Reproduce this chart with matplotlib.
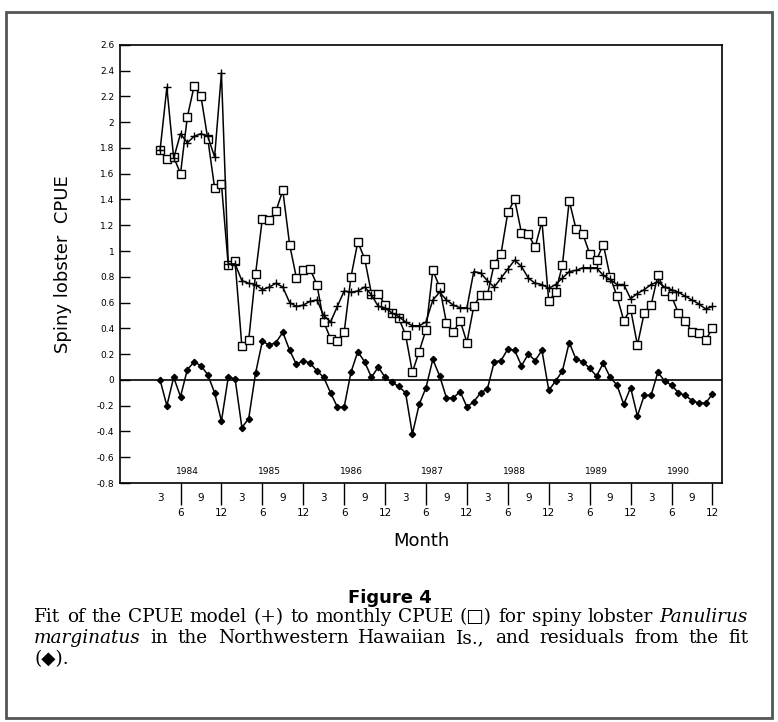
import matplotlib
matplotlib.use("Agg")
import matplotlib.pyplot as plt
from matplotlib.patches import Rectangle
import numpy as np

# monthly series, 1984-03 .. 1990-12
start_year = 1984
start_month = 3

cpue_obs = [1.78, 1.71, 1.73, 1.60, 2.04, 2.28, 2.20, 1.87, 1.49, 1.52,
            0.89, 0.92, 0.26, 0.31, 0.82, 1.25, 1.24, 1.31, 1.47, 1.05,
            0.79, 0.85, 0.86, 0.74, 0.45, 0.32, 0.30, 0.37, 0.80, 1.07,
            0.94, 0.67, 0.67, 0.58, 0.52, 0.48, 0.35, 0.06, 0.22, 0.39,
            0.85, 0.72, 0.44, 0.37, 0.46, 0.29, 0.57, 0.66, 0.66, 0.90,
            0.98, 1.30, 1.40, 1.14, 1.13, 1.03, 1.23, 0.61, 0.68, 0.89,
            1.39, 1.17, 1.13, 0.98, 0.93, 1.05, 0.80, 0.65, 0.46, 0.55,
            0.27, 0.52, 0.58, 0.81, 0.69, 0.65, 0.52, 0.46, 0.37, 0.36,
            0.31, 0.40]

cpue_fit = [1.78, 2.27, 1.72, 1.91, 1.84, 1.89, 1.91, 1.89, 1.73, 2.38,
            0.90, 0.90, 0.77, 0.75, 0.74, 0.70, 0.72, 0.75, 0.72, 0.60,
            0.57, 0.58, 0.61, 0.62, 0.50, 0.45, 0.57, 0.69, 0.68, 0.69,
            0.72, 0.66, 0.57, 0.56, 0.52, 0.49, 0.45, 0.42, 0.42, 0.45,
            0.62, 0.68, 0.62, 0.58, 0.56, 0.56, 0.84, 0.83, 0.77, 0.72,
            0.79, 0.86, 0.93, 0.88, 0.79, 0.75, 0.74, 0.71, 0.74, 0.79,
            0.84, 0.85, 0.87, 0.87, 0.87, 0.81, 0.78, 0.74, 0.74, 0.63,
            0.67, 0.70, 0.74, 0.76, 0.72, 0.70, 0.68, 0.65, 0.62, 0.59,
            0.55, 0.57]

residuals = [0.00, -0.20, 0.02, -0.13, 0.08, 0.14, 0.11, 0.04, -0.10, -0.32,
             0.02, 0.01, -0.37, -0.30, 0.05, 0.30, 0.27, 0.29, 0.37, 0.23,
             0.12, 0.15, 0.13, 0.07, 0.02, -0.10, -0.21, -0.21, 0.06, 0.22,
             0.14, 0.02, 0.10, 0.02, -0.02, -0.05, -0.10, -0.42, -0.19, -0.06,
             0.16, 0.03, -0.14, -0.14, -0.09, -0.21, -0.17, -0.10, -0.07, 0.14,
             0.15, 0.24, 0.23, 0.11, 0.20, 0.15, 0.23, -0.08, -0.01, 0.07,
             0.29, 0.16, 0.14, 0.09, 0.03, 0.13, 0.02, -0.04, -0.19, -0.06,
             -0.28, -0.12, -0.12, 0.06, -0.01, -0.04, -0.10, -0.12, -0.16, -0.18,
             -0.18, -0.11]

years = [1984, 1985, 1986, 1987, 1988, 1989, 1990]
tick_months = [3, 6, 9, 12]


def month_index(year, month):
    return (year - start_year) * 12 + (month - start_month)


t = np.arange(len(cpue_obs))

fig = plt.figure(figsize=(7.78, 7.22), dpi=100)
ax = fig.add_axes([0.154, 0.331, 0.774, 0.607])

ax.plot(t, cpue_obs, color='black', lw=1.1, marker='s', ms=5.2,
        mfc='white', mec='black', mew=1.0)
ax.plot(t, cpue_fit, color='black', lw=1.1, marker='+', ms=5.5, mew=1.0)
ax.plot(t, residuals, color='black', lw=1.1, marker='D', ms=3.2,
        mfc='black', mec='black')
ax.axhline(0, color='black', lw=1.2)

ax.set_xlim(-5.9, 82.4)
ax.set_ylim(-0.8, 2.6)

yt = np.round(np.arange(-0.8, 2.61, 0.2), 1) + 0.0
ax.set_yticks(yt)
ax.set_yticklabels(['%g' % v if abs(v) > 1e-9 else '0' for v in yt], fontsize=6.5)
ax.tick_params(axis='y', direction='in', length=7, width=1, pad=4)

major_pos, major_lab, minor_pos, minor_lab = [], [], [], []
for y in years:
    for m in tick_months:
        pos = month_index(y, m)
        if pos < 0 or pos >= len(cpue_obs):
            continue
        if m in (6, 12):
            major_pos.append(pos)
            major_lab.append(str(m))
        else:
            minor_pos.append(pos)
            minor_lab.append(str(m))
ax.set_xticks(major_pos)
ax.set_xticklabels(major_lab, fontsize=7.5)
ax.set_xticks(minor_pos, minor=True)
ax.set_xticklabels(minor_lab, minor=True, fontsize=7.5)
ax.tick_params(axis='x', which='major', direction='out', length=16, width=1, pad=2)
ax.tick_params(axis='x', which='minor', direction='out', length=0, pad=7)

for y in years:
    ax.text(month_index(y, 7), -0.71, str(y), ha='center', va='center', fontsize=6.5)

for s in ax.spines.values():
    s.set_linewidth(1.2)

ax.set_ylabel('Spiny lobster  CPUE', fontsize=13, labelpad=18)
ax.set_xlabel('Month', fontsize=13, labelpad=10)

# figure caption
fig.text(0.501, 0.172, 'Figure 4', ha='center', va='center', fontsize=13,
         fontweight='bold')

serif = ['DejaVu Serif', 'DejaVu Sans']
renderer = fig.canvas.get_renderer()
cap_size = 13.3


def justified_line(words, y, x0, x1, fontsize=cap_size):
    arts = []
    for w, style in words:
        a = fig.text(0, y, w, fontsize=fontsize, family=serif, style=style,
                     va='center', ha='left')
        arts.append(a)
    widths = [a.get_window_extent(renderer).width / fig.bbox.width for a in arts]
    gap = (x1 - x0 - sum(widths)) / (len(arts) - 1)
    x = x0
    for a, w in zip(arts, widths):
        a.set_x(x)
        x += w + gap


line1 = [(w, 'normal') for w in 'Fit of the CPUE model (+) to monthly CPUE (\u25a1) for spiny lobster'.split()]
line1.append(('Panulirus', 'italic'))
line2 = [('marginatus', 'italic')]
line2 += [(w, 'normal') for w in 'in the Northwestern Hawaiian Is., and residuals from the fit'.split()]

justified_line(line1, 1 - 617 / 722, 34 / 778, 748 / 778)
justified_line(line2, 1 - 638 / 722, 34 / 778, 748 / 778)
fig.text(34 / 778, 1 - 659 / 722, '(\u25c6).', fontsize=cap_size, family=serif,
         va='center', ha='left')

fig.patches.append(Rectangle((0.008, 0.006), 0.984, 0.978, transform=fig.transFigure,
                             fill=False, edgecolor='#555555', lw=2))

fig.savefig('out.png', dpi=100)
